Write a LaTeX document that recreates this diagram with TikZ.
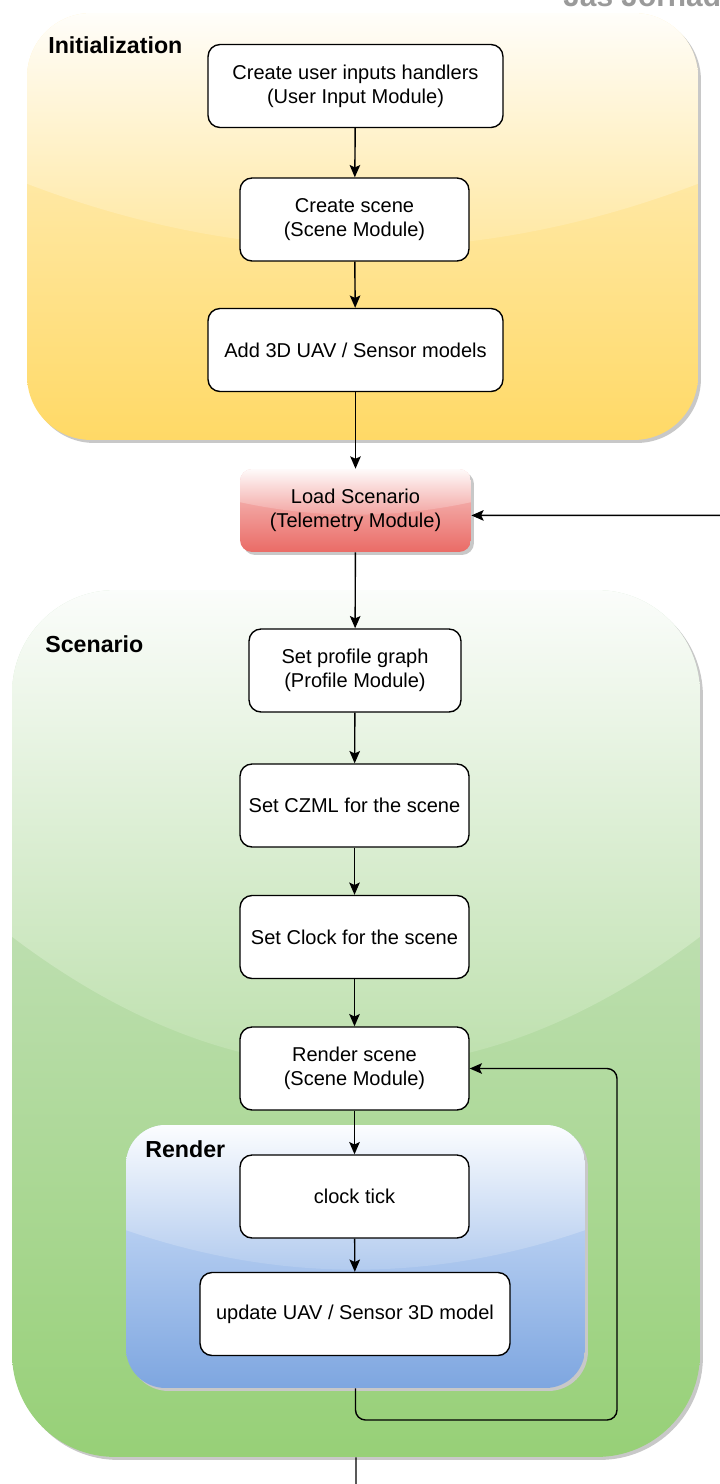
\documentclass[tikz,border=0pt]{standalone}
\usepackage{fontspec}
\setmainfont{Liberation Sans}
\usetikzlibrary{arrows.meta,shadows,calc}

\definecolor{inityellow}{HTML}{FFF2CC}
\definecolor{initgold}{HTML}{FFD966}
\definecolor{scengreen}{HTML}{D5E8D4}
\definecolor{scendark}{HTML}{97D077}
\definecolor{rendblue}{HTML}{DAE8FC}
\definecolor{renddark}{HTML}{7EA6E0}
\definecolor{loadred}{HTML}{F8CECC}
\definecolor{loaddark}{HTML}{EA6B66}
\definecolor{shadowgray}{HTML}{C8C8C8}
\definecolor{authorgray}{HTML}{9A9A9A}

\begin{document}
\begin{tikzpicture}[x=0.02cm,y=-0.02cm]

%
% Styles
%
\tikzset{
  glass/.style 2 args={
    draw=none, inner sep=0pt,
    drop shadow={shadow xshift=1.7pt,shadow yshift=-1.7pt,fill=shadowgray,opacity=1},
    path picture={
      \coordinate (gnw) at (path picture bounding box.north west);
      \coordinate (gne) at (path picture bounding box.north east);
      \coordinate (gsw) at (path picture bounding box.south west);
      \coordinate (gse) at (path picture bounding box.south east);
      \coordinate (gl) at ($(gnw)!0.4!(gsw)$);
      \coordinate (gr) at ($(gne)!0.4!(gse)$);
      \coordinate (cl) at ($(gnw)!0.6!(gsw)$);
      \coordinate (cr) at ($(gne)!0.6!(gse)$);
      \shade[sharp corners, top color=#1,bottom color=#2] (gnw) rectangle (gse);
      \begin{scope}[sharp corners]
        \clip (gnw) -- (gl) .. controls ($(cl)!1/3!(cr)$) and ($(cl)!2/3!(cr)$) .. (gr) -- (gne) -- cycle;
        \shade[top color=#1!10!white, middle color=#2!30!#1!50!white,
          bottom color=#2!60!#1!90!white] (gnw) rectangle (cr);
      \end{scope}
    }
  },
  group/.style={inner sep=0pt, font=\fontsize{13.2}{15}\selectfont\bfseries},
  stepbox/.style={draw, fill=white, line width=0.8pt, rounded corners=0.24cm,
    minimum width=4.58cm, minimum height=1.66cm, align=center,
    font=\fontsize{11.4}{13.6}\selectfont},
  edge/.style={-{Stealth[length=7pt,width=6pt,inset=1.4pt]}, line width=0.8pt},
  authorlbl/.style={inner sep=0pt, font=\fontsize{17}{20}\selectfont\bfseries, text=authorgray}
}

\useasboundingbox (0,0) rectangle (720,1484);

% containers
\node[glass={inityellow}{initgold}, rounded corners=1.28cm,
  minimum width=13.42cm, minimum height=8.54cm] (initg) at (362.5,226.5) {};
\node[glass={scengreen}{scendark}, rounded corners=2.06cm,
  minimum width=13.76cm, minimum height=17.34cm] (scen) at (356,1023.5) {};
\node[glass={rendblue}{renddark}, rounded corners=0.79cm,
  minimum width=9.18cm, minimum height=5.26cm] (renderg) at (355.5,1256.5) {};

\node[group, anchor=base west] (initlbl) at (48,53) {Initialization};
\node[group, anchor=base west] (scenlbl) at (45,652) {Scenario};
\node[group, anchor=base west] (rendlbl) at (145,1157) {Render};

\node[authorlbl, anchor=base west] (author) at (563,7) {Jas Jornada};

% steps
\node[stepbox, minimum width=5.9cm] (handlers) at (355.5,86) {Create user inputs handlers\\(User Input Module)};
\node[stepbox] (scene) at (354.5,219.5) {Create scene\\(Scene Module)};
\node[stepbox, minimum width=5.9cm] (models) at (355.5,350) {Add 3D UAV / Sensor models};
\node[glass={loadred}{loaddark}, rounded corners=0.24cm, minimum width=4.62cm,
  minimum height=1.66cm, align=center, font=\fontsize{11.4}{13.6}\selectfont]
  (load) at (355.5,510.5) {Load Scenario\\(Telemetry Module)};
\node[stepbox, minimum width=4.24cm] (profile) at (355,670.5) {Set profile graph\\(Profile Module)};
\node[stepbox] (czml) at (354.5,805.5) {Set CZML for the scene};
\node[stepbox] (clock) at (354.5,937) {Set Clock for the scene};
\node[stepbox] (render) at (354.5,1068.5) {Render scene\\(Scene Module)};
\node[stepbox] (tick) at (354.5,1196.5) {clock tick};
\node[stepbox, minimum width=6.2cm] (update) at (355,1314) {update UAV / Sensor 3D model};

\coordinate (loopcorner) at (617,1420);
\coordinate (exitcorner) at (745,1500);

\draw[edge] (handlers) -- (scene);
\draw[edge] (scene) -- (models);
\draw[edge] (models) -- (load);
\draw[edge] (load) -- (profile);
\draw[edge] (profile) -- (czml);
\draw[edge] (czml) -- (clock);
\draw[edge] (clock) -- (render);
\draw[edge] (render) -- (tick);
\draw[edge] (tick) -- (update);
\draw[edge, rounded corners=0.2cm] (renderg.south) |- (loopcorner) |- (render.east);
\draw[edge, rounded corners=0.3cm] (scen.south) |- (exitcorner) |- ([yshift=-2.8pt]load.east);

\end{tikzpicture}
\end{document}
